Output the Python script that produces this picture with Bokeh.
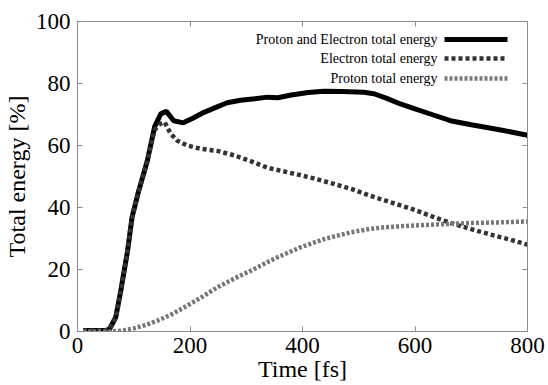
from bokeh.plotting import figure
from bokeh.models import (Range1d, LinearAxis, FixedTicker, CustomJSTickFormatter,
                          Label, PolyAnnotation)
from bokeh.embed import file_html
from bokeh.resources import INLINE

# ---- data ----
t_total = [10, 50, 57, 68, 77, 89, 97, 109, 124, 137, 148, 158, 171, 188, 205, 225,
           245, 266, 290, 315, 338, 356, 380, 410, 438, 470, 509, 527, 550, 574,
           600, 630, 663, 700, 750, 800]
e_total = [0.3, 0.3, 0.8, 4.6, 13.2, 26, 36.9, 45.5, 55, 66, 70.2, 71, 68, 67.3,
           68.8, 70.7, 72.2, 73.8, 74.6, 75.1, 75.6, 75.4, 76.3, 77.1, 77.5, 77.4,
           77.2, 76.7, 75.2, 73.4, 71.8, 70.0, 68.0, 66.7, 65.1, 63.3]

t_electron = [10, 50, 57, 68, 77, 89, 97, 109, 124, 137, 147, 155, 165, 177, 195,
              220, 250, 279, 310, 338, 385, 420, 456, 490, 520, 560, 600, 635, 669,
              700, 740, 770, 800]
e_electron = [0.3, 0.3, 0.8, 4.6, 13.2, 26, 36.9, 45.5, 55, 65, 67, 67.5, 64, 61.6,
              60, 58.9, 58.2, 56.8, 54.8, 52.8, 50.9, 49.4, 47.6, 45.8, 43.8, 41.5,
              39.2, 36.8, 34.7, 33, 31, 29.6, 28]

t_proton = [10, 60, 80, 100, 119, 142, 165, 190, 220, 249, 280, 309, 350, 397, 440,
            486, 520, 545, 590, 634, 700, 750, 800]
e_proton = [0, 0, 0.3, 1, 2, 3.5, 5.3, 7.8, 11, 14.3, 17.2, 19.7, 23.5, 27.2, 29.9,
            32, 33.1, 33.6, 34.1, 34.5, 35, 35.2, 35.5]

x_ticks = [0, 200, 400, 600, 800]
y_ticks = [0, 20, 40, 60, 80, 100]
series_labels = ["Proton and Electron total energy", "Electron total energy",
                 "Proton total energy"]

FONT = "Liberation Serif"
FRAME = "#8c8c8c"
C_TOT, C_ELE, C_PRO = "#000000", "#333333", "#777777"

p = figure(width=548, height=385, output_backend="svg", toolbar_location=None,
           x_range=Range1d(0, 800), y_range=Range1d(0, 100),
           min_border_left=76, min_border_right=21, min_border_top=21,
           min_border_bottom=54)
p.background_fill_color = "white"
p.border_fill_color = "white"
p.outline_line_color = FRAME
p.grid.visible = False

p.line(t_total, e_total, line_color=C_TOT, line_width=5)
p.line(t_electron, e_electron, line_color=C_ELE, line_width=4.5, line_dash="4 3")
p.line(t_proton, e_proton, line_color=C_PRO, line_width=4.5, line_dash="3 2")


def style(ax, ticks, labels=True):
    ax.ticker = FixedTicker(ticks=ticks)
    ax.axis_line_color = FRAME
    ax.major_tick_line_color = FRAME
    ax.major_tick_in = 5
    ax.major_tick_out = 0
    ax.minor_tick_line_color = None
    ax.major_label_text_font = FONT
    ax.major_label_text_font_size = "23px"
    ax.major_label_text_font_style = "normal"
    ax.major_label_text_color = "black"
    ax.axis_label_text_font = FONT
    ax.axis_label_text_font_size = "24px"
    ax.axis_label_text_font_style = "normal"
    ax.axis_label_text_color = "black"
    if not labels:
        ax.formatter = CustomJSTickFormatter(code="return ''")
        ax.major_label_standoff = 0


style(p.xaxis[0], x_ticks)
style(p.yaxis[0], y_ticks)
p.xaxis[0].axis_label = "Time [fs]"
p.yaxis[0].axis_label = "Total energy [%]"
p.xaxis[0].major_label_standoff = 6
p.xaxis[0].axis_label_standoff = 0
p.yaxis[0].major_label_standoff = 7
p.yaxis[0].axis_label_standoff = 3

top = LinearAxis()
style(top, x_ticks, labels=False)
p.add_layout(top, "above")
right = LinearAxis()
style(right, y_ticks, labels=False)
p.add_layout(right, "right")

# ---- legend (text right-aligned, sample to the right) ----
rows_y = [292, 273, 253]  # screen px from frame bottom
styles = [(C_TOT, 5, "solid"), (C_ELE, 4.5, "4 3"), (C_PRO, 4.5, "3 2")]
for lab, yy, (c, w, d) in zip(series_labels, rows_y, styles):
    p.add_layout(Label(x=360, y=yy, x_units="screen", y_units="screen", text=lab,
                       text_align="right", text_baseline="middle",
                       text_font=FONT, text_font_size="14px", text_color="black"))
    p.add_layout(PolyAnnotation(xs=[367, 430], ys=[yy, yy], xs_units="screen",
                                ys_units="screen", fill_alpha=0, line_color=c,
                                line_alpha=1.0, line_width=w, line_dash=d))

open("out.html", "w").write(file_html(p, INLINE))
